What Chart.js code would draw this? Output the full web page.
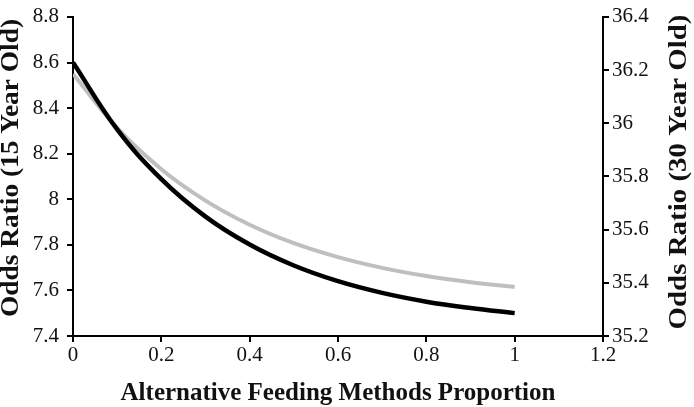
<!DOCTYPE html>
<html>
<head>
<meta charset="utf-8">
<script src="https://cdn.jsdelivr.net/npm/chart.js@4"></script>
<style>
  body { margin: 0; background: #fff; }
  canvas { display: block; }
</style>
</head>
<body>
<canvas id="oddsChart" width="694" height="407"></canvas>
<script>
// proportion of alternative feeding methods
const feedingProportion = [0, 0.1, 0.2, 0.3, 0.4, 0.5, 0.6, 0.7, 0.8, 0.9, 1];
// odds ratio, 15 year old (grey, left axis)
const odds15 = [8.550, 8.313, 8.132, 7.994, 7.888, 7.807, 7.746, 7.699, 7.663, 7.636, 7.615];
// odds ratio, 30 year old (black, right axis)
const odds30 = [36.229, 35.977, 35.790, 35.649, 35.544, 35.465, 35.406, 35.362, 35.329, 35.305, 35.286];

const xTickLabels = ['0', '0.2', '0.4', '0.6', '0.8', '1', '1.2'];
const leftTickLabels = ['7.4', '7.6', '7.8', '8', '8.2', '8.4', '8.6', '8.8'];
const rightTickLabels = ['35.2', '35.4', '35.6', '35.8', '36', '36.2', '36.4'];

const serif = '"Liberation Serif", "Times New Roman", serif';

function toPoints(values) {
  return feedingProportion.map((x, i) => ({ x: x, y: values[i] }));
}

function axisGrid() {
  return { drawOnChartArea: false, drawTicks: true, tickLength: 6, color: '#000', lineWidth: 2 };
}

// both y titles read bottom-to-top, so draw them here instead of with scale titles
const sideTitles = {
  id: 'sideTitles',
  afterDraw(chart) {
    const ctx = chart.ctx;
    const items = [
      { text: 'Odds Ratio (15 Year Old)', x: 12, y: 168, len: 298 },
      { text: 'Odds Ratio (30 Year Old)', x: 680, y: 172, len: 315 }
    ];
    items.forEach(t => {
      ctx.save();
      ctx.translate(t.x, t.y);
      ctx.rotate(-Math.PI / 2);
      ctx.font = 'bold 25px ' + serif;
      const w = ctx.measureText(t.text).width;
      ctx.scale(t.len / w, 1);
      ctx.fillStyle = '#111';
      ctx.textAlign = 'center';
      ctx.textBaseline = 'middle';
      ctx.fillText(t.text, 0, 0);
      ctx.restore();
    });
  }
};

new Chart(document.getElementById('oddsChart'), {
  type: 'line',
  data: {
    datasets: [
      {
        label: 'Odds Ratio (30 Year Old)',
        data: toPoints(odds30),
        yAxisID: 'y1',
        borderColor: '#000',
        borderWidth: 4.5,
        pointRadius: 0,
        tension: 0.4,
        fill: false
      },
      {
        label: 'Odds Ratio (15 Year Old)',
        data: toPoints(odds15),
        yAxisID: 'y',
        borderColor: '#bfbfbf',
        borderWidth: 4,
        pointRadius: 0,
        tension: 0.4,
        fill: false
      }
    ]
  },
  plugins: [sideTitles],
  options: {
    responsive: false,
    animation: false,
    devicePixelRatio: 1,
    layout: { padding: { top: 9, left: 0, right: 0, bottom: 0 } },
    plugins: { legend: { display: false }, tooltip: { enabled: false } },
    scales: {
      x: {
        type: 'linear',
        min: 0,
        max: 1.2,
        grid: axisGrid(),
        border: { color: '#000', width: 2 },
        ticks: {
          stepSize: 0.2,
          padding: 2,
          color: '#111',
          font: { family: serif, size: 21, lineHeight: 1.1 },
          callback: (v, i) => xTickLabels[i]
        },
        title: {
          display: true,
          text: 'Alternative Feeding Methods Proportion',
          color: '#111',
          font: { family: serif, size: 25, weight: 'bold', lineHeight: 1.1 },
          padding: { top: 0, bottom: 0 }
        },
        afterFit: s => { s.height = 71; }
      },
      y: {
        position: 'left',
        min: 7.4,
        max: 8.8,
        grid: axisGrid(),
        border: { color: '#000', width: 2 },
        ticks: {
          stepSize: 0.2,
          padding: 8,
          color: '#111',
          font: { family: serif, size: 21, lineHeight: 0.85 },
          callback: (v, i) => leftTickLabels[i]
        },
        afterFit: s => { s.width = 73; }
      },
      y1: {
        position: 'right',
        min: 35.2,
        max: 36.4,
        grid: axisGrid(),
        border: { color: '#000', width: 2 },
        ticks: {
          stepSize: 0.2,
          padding: 3,
          color: '#111',
          font: { family: serif, size: 21, lineHeight: 0.85 },
          callback: (v, i) => rightTickLabels[i]
        },
        afterFit: s => { s.width = 91; }
      }
    }
  }
});
</script>
</body>
</html>
